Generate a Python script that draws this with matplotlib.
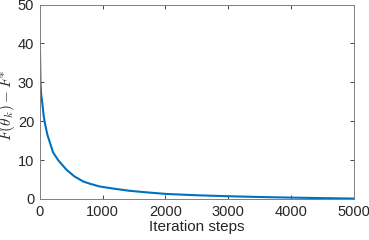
import numpy as np
import matplotlib.pyplot as plt

plt.rcParams['font.family'] = ['Liberation Sans', 'DejaVu Sans']
plt.rcParams['mathtext.fontset'] = 'cm'

steps = [0, 5, 10, 20, 40, 60, 80, 120, 160, 210, 250, 300, 425, 550, 690, 800,
         955, 1200, 1430, 1700, 2000, 2500, 3000, 3500, 4000, 4500, 5000]
gap = [41.2, 35, 30, 27, 24.5, 21.5, 19.5, 16.5, 14.5, 12, 11, 9.8, 7.5, 5.8, 4.5, 3.9,
       3.2, 2.6, 2.1, 1.7, 1.3, 0.95, 0.7, 0.5, 0.35, 0.22, 0.1]

fig = plt.figure(figsize=(3.69, 2.40), dpi=100)
ax = fig.add_axes([0.108, 0.171, 0.851, 0.81])
ax.plot(steps, gap, color='#0072BD', lw=1.5)
ax.set_xlim(0, 5000)
ax.set_ylim(0, 50)
ax.set_xticks([0, 1000, 2000, 3000, 4000, 5000])
ax.set_yticks([0, 10, 20, 30, 40, 50])
ax.tick_params(direction='in', top=True, right=True, length=3, width=0.6,
               color='#262626', labelsize=10.5, labelcolor='#262626', pad=4)
for s in ax.spines.values():
    s.set_color('#808080')
    s.set_linewidth(0.7)
ax.set_xlabel('Iteration steps', fontsize=11, color='#262626', labelpad=1)
ax.set_ylabel(r'$F(\hat{\theta}_k)-F^{*}$', fontsize=11, color='#262626')
ax.yaxis.set_label_coords(-0.07, 0.48)
fig.savefig('out.png', dpi=100)
